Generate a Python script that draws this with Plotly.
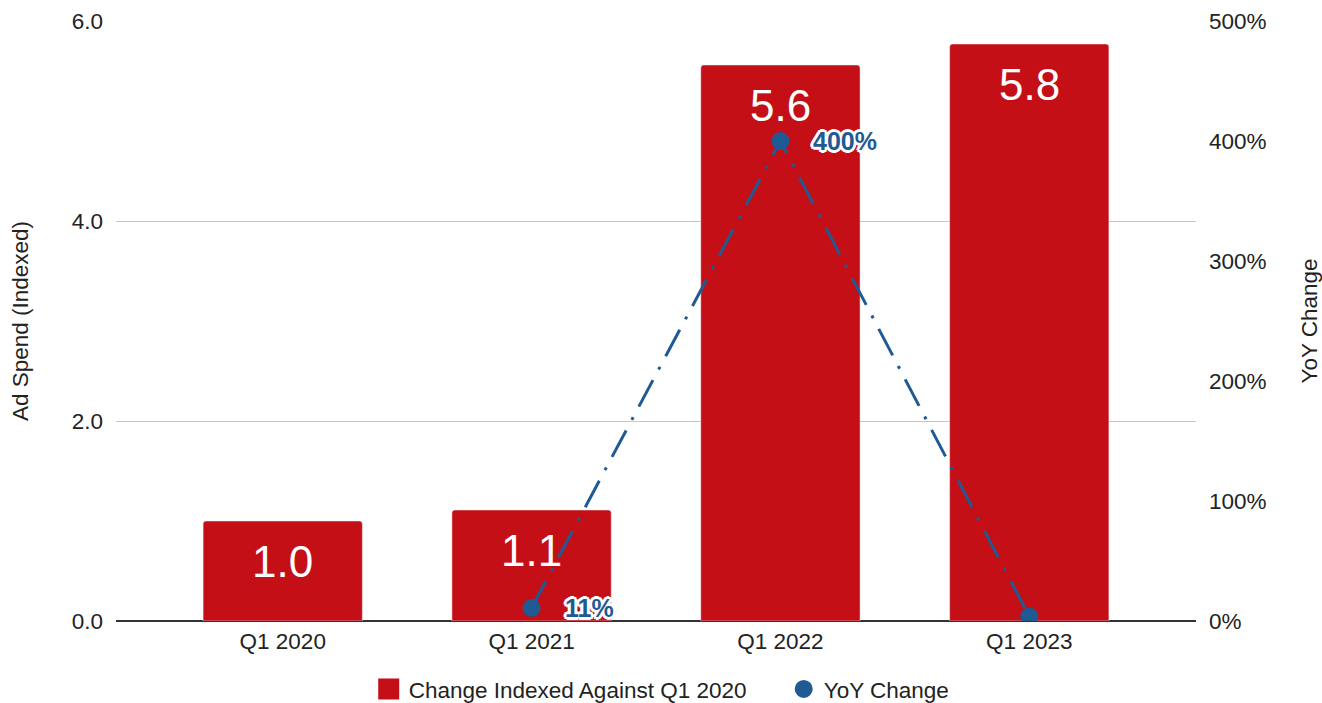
import plotly.graph_objects as go

# Quarterly ad spend, indexed against Q1 2020, and its year-over-year change
quarters = ["Q1 2020", "Q1 2021", "Q1 2022", "Q1 2023"]
ad_spend_index = [1.0, 1.11, 5.56, 5.77]
yoy_change = [None, 0.11, 4.0, 0.038]
yoy_labelled = [False, True, True, False]

BAR_RED = "#c40f17"
LINE_BLUE = "#1f5a93"
FONT = "Liberation Sans, Arial, sans-serif"
TXT = 22.5

HALO = ", ".join(
    f"{dx}px {dy}px 0 white"
    for dx, dy in [(2, 0), (-2, 0), (0, 2), (0, -2), (2, 2), (-2, -2), (2, -2), (-2, 2),
                   (1, 2), (2, 1), (-1, 2), (-2, 1), (1, -2), (2, -1), (-1, -2), (-2, -1),
                   (3, 0), (-3, 0), (0, 3), (0, -3)]
)

fig = go.Figure()

fig.add_trace(go.Bar(
    x=quarters,
    y=ad_spend_index,
    name="Change Indexed Against Q1 2020",
    marker=dict(color=BAR_RED, cornerradius=3),
    width=0.64,
    showlegend=False,
    legendgroup="spend",
    yaxis="y",
))

# Legend swatch for the bars (larger square than the default bar swatch)
fig.add_trace(go.Scatter(
    x=[None], y=[None],
    name="Change Indexed Against Q1 2020",
    mode="markers",
    marker=dict(symbol="square", color=BAR_RED, size=16,
                line=dict(color=BAR_RED, width=5)),
    legendgroup="spend",
    showlegend=True,
))

# YoY change: dash-dot connector drawn separately so the legend shows only the dot
fig.add_trace(go.Scatter(
    x=quarters,
    y=yoy_change,
    name="YoY Change",
    mode="lines",
    line=dict(color=LINE_BLUE, width=3, dash="30px,12px,3px,12px"),
    connectgaps=False,
    showlegend=False,
    legendgroup="yoy",
    yaxis="y2",
))
fig.add_trace(go.Scatter(
    x=quarters,
    y=yoy_change,
    name="YoY Change",
    mode="markers",
    marker=dict(color=LINE_BLUE, size=15, line=dict(color=LINE_BLUE, width=3)),
    legendgroup="yoy",
    showlegend=True,
    yaxis="y2",
))

# White value labels near the top of each bar
for q, v in zip(quarters, ad_spend_index):
    fig.add_annotation(
        x=q, y=v, xref="x", yref="y",
        text=f"{v:.1f}",
        showarrow=False,
        yanchor="top", yshift=-14,
        font=dict(family=FONT, size=44, color="white"),
    )

# Bold percentage labels beside the YoY markers
for q, v, show in zip(quarters, yoy_change, yoy_labelled):
    if v is None or not show:
        continue
    fig.add_annotation(
        x=q, y=v, xref="x", yref="y2",
        text=f"<b>{v * 100:.0f}%</b>",
        showarrow=False,
        xanchor="left", xshift=31,
        font=dict(family=FONT, size=25, color=LINE_BLUE, shadow=HALO),
    )

fig.update_layout(
    width=1322,
    height=703,
    margin=dict(l=116, r=126, t=21, b=82, autoexpand=False),
    paper_bgcolor="white",
    plot_bgcolor="white",
    font=dict(family=FONT, size=TXT, color="#222222"),
    showlegend=True,
    legend=dict(
        orientation="h",
        x=0.234, xanchor="left",
        y=-0.078, yanchor="top",
        font=dict(size=TXT, color="#222222"),
        itemsizing="trace",
        traceorder="normal",
        entrywidth=370,
        entrywidthmode="pixels",
    ),
    xaxis=dict(
        type="category",
        range=[-0.67, 3.67],
        showgrid=False,
        showline=False,
        ticks="",
        tickfont=dict(size=TXT),
        zeroline=False,
        ticklabelstandoff=4,
    ),
    yaxis=dict(
        title=dict(text="Ad Spend (Indexed)", font=dict(size=TXT), standoff=36),
        range=[0, 6],
        tickvals=[0, 2, 4, 6],
        tickformat=".1f",
        tickfont=dict(size=TXT),
        showgrid=True,
        gridcolor="#c8c8c8",
        gridwidth=1,
        zeroline=True,
        zerolinecolor="#333333",
        zerolinewidth=1.5,
        ticks="",
        ticklabelstandoff=12,
    ),
    yaxis2=dict(
        title=dict(text="YoY Change", font=dict(size=TXT), standoff=35),
        overlaying="y",
        side="right",
        range=[0, 5],
        tickvals=[0, 1, 2, 3, 4, 5],
        tickformat=".0%",
        tickfont=dict(size=TXT),
        showgrid=False,
        zeroline=False,
        ticks="",
        ticklabelstandoff=12,
    ),
)

fig.write_html("out.html")
